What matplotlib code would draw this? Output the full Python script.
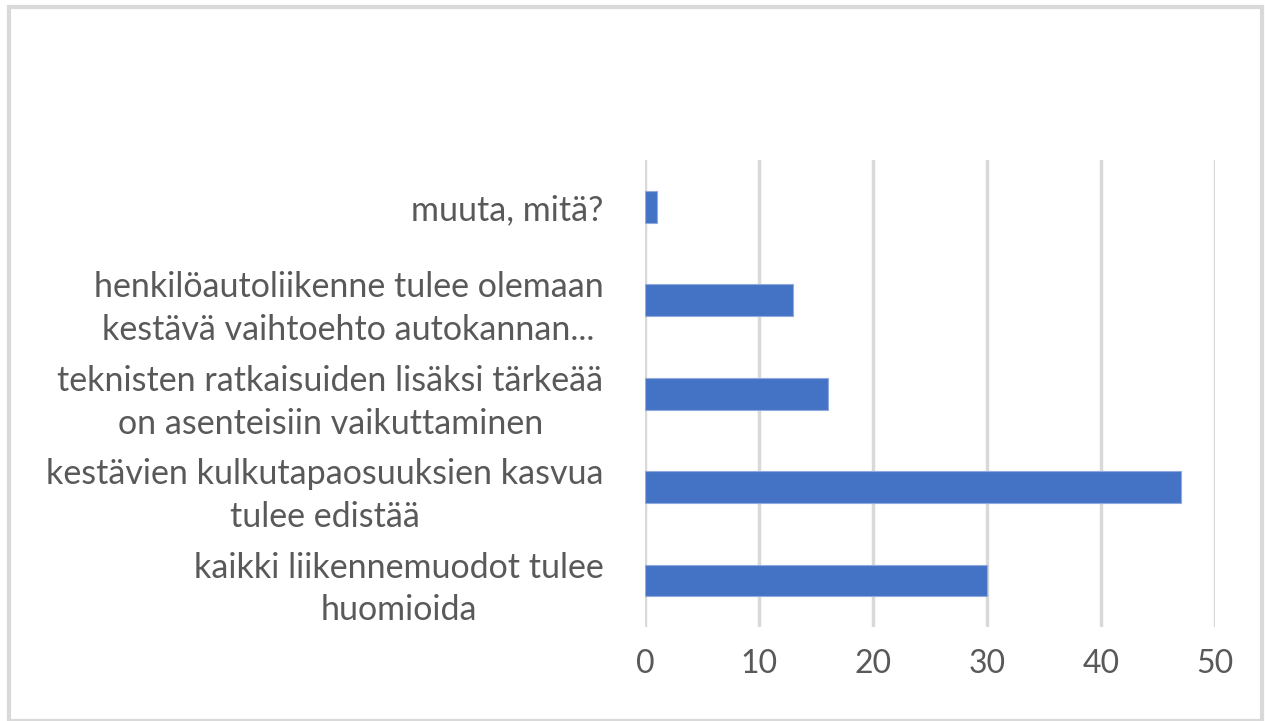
import matplotlib.pyplot as plt
from matplotlib.patches import Rectangle

# Data (bottom to top, as drawn)
CATEGORIES = [
    "kaikki liikennemuodot tulee\nhuomioida",
    "kestävien kulkutapaosuuksien kasvua\ntulee edistää",
    "teknisten ratkaisuiden lisäksi tärkeää\non asenteisiin vaikuttaminen",
    "henkilöautoliikenne tulee olemaan\nkestävä vaihtoehto autokannan...",
    "muuta, mitä?",
]
VALUES = [30, 47, 16, 13, 1]
X_TICKS = [0, 10, 20, 30, 40, 50]

BAR_COLOR = "#4472C4"
TEXT_COLOR = "#595959"
GRID_COLOR = "#d9d9d9"

plt.rcParams["font.family"] = ["Lato", "DejaVu Sans"]

fig = plt.figure(figsize=(12.65, 7.21), dpi=100)
ax = fig.add_axes([0.51, 0.130, 0.4505, 0.648])

y = range(len(CATEGORIES))
ax.barh(y, VALUES, height=0.34, color=BAR_COLOR, edgecolor="#8faadc",
        linewidth=0.8, zorder=3)

ax.set_xlim(0, 50)
ax.set_ylim(-0.5, len(CATEGORIES) - 0.5)
ax.set_xticks(X_TICKS)
ax.set_xticklabels([str(t) for t in X_TICKS], fontsize=23)
ax.set_yticks(list(y))
ax.set_yticklabels(CATEGORIES, multialignment="center", fontsize=24.5,
                   linespacing=1.42)

ax.tick_params(axis="both", length=0, colors=TEXT_COLOR)
ax.tick_params(axis="x", pad=16)
ax.tick_params(axis="y", pad=30)
ax.grid(axis="x", color=GRID_COLOR, linewidth=2.5, zorder=0)
for s in ax.spines.values():
    s.set_visible(False)

# light frame around the chart area
fig.patches.append(Rectangle((0.0075, 0.0), 0.99, 0.99, transform=fig.transFigure,
                             fill=False, edgecolor=GRID_COLOR, linewidth=3))

fig.savefig("out.png", dpi=100)
